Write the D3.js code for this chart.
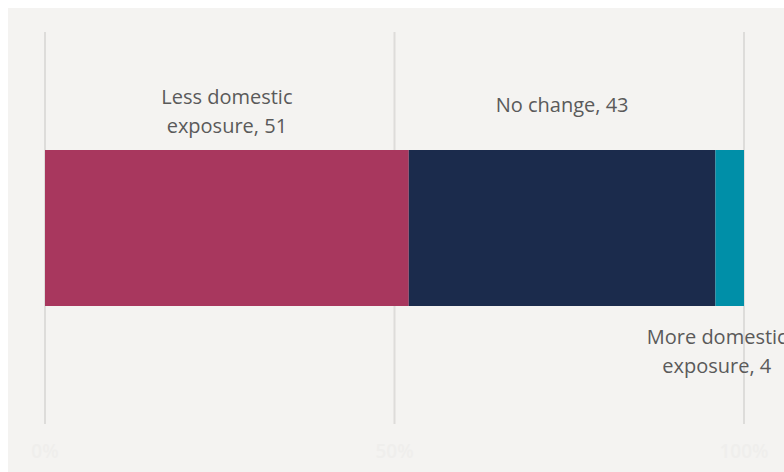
<!DOCTYPE html>
<html>
<head>
<meta charset="utf-8">
<script src="https://cdn.jsdelivr.net/npm/d3@7"></script>
<style>
  body { margin: 0; background: #fff; }
  svg { display: block; font-family: "Open Sans", sans-serif; }
</style>
</head>
<body>
<div id="chart"></div>
<script>
// data
const categories = ["Less domestic exposure", "No change", "More domestic exposure"];
const values = [51, 43, 4];
const colors = ["#a8375e", "#1b2b4c", "#008fa8"];
const tickValues = [0, 0.5, 1];
const tickLabels = ["0%", "50%", "100%"];
// label lines + placement (above / below the bar)
const labelLines = [["Less domestic", "exposure, 51"], ["No change, 43"], ["More domestic", "exposure, 4"]];
const labelSide = ["above", "above", "below"];

const W = 784, H = 472;
const svg = d3.select("#chart").append("svg")
    .attr("width", W)
    .attr("height", H);

// panel background
svg.append("rect")
    .attr("x", 8).attr("y", 8)
    .attr("width", W - 8).attr("height", H - 8)
    .attr("fill", "#f4f3f1");

const total = d3.sum(values);
const x = d3.scaleLinear().domain([0, 1]).range([45, 744]);

const barTop = 150, barH = 156;

// grid lines
svg.append("g")
    .selectAll("line")
    .data(tickValues)
    .join("line")
    .attr("x1", d => x(d)).attr("x2", d => x(d))
    .attr("y1", 32).attr("y2", 424)
    .attr("stroke", "#dddcda")
    .attr("stroke-width", 2);

// tick labels (very faint in the original)
svg.append("g")
    .selectAll("text")
    .data(tickValues)
    .join("text")
    .attr("x", d => x(d))
    .attr("y", 458)
    .attr("text-anchor", "middle")
    .attr("font-size", 19)
    .attr("font-weight", 600)
    .attr("fill", "#efeeec")
    .text((d, i) => tickLabels[i]);

// stacked shares
let acc = 0;
const segs = values.map((v, i) => {
  const s = { i, start: acc / total, end: (acc + v) / total };
  acc += v;
  return s;
});

svg.append("g")
    .selectAll("rect")
    .data(segs)
    .join("rect")
    .attr("x", d => x(d.start))
    .attr("y", barTop)
    .attr("width", d => x(d.end) - x(d.start))
    .attr("height", barH)
    .attr("fill", d => colors[d.i]);

// labels
const lineH = 29;
const labels = svg.append("g")
    .attr("font-size", 20)
    .attr("fill", "#5a5a5a")
    .attr("text-anchor", "middle");

segs.forEach(s => {
  const lines = labelLines[s.i];
  let cx = (x(s.start) + x(s.end)) / 2;
  if (labelSide[s.i] === "below") cx -= 13;
  const t = labels.append("text");
  lines.forEach((ln, j) => {
    let y;
    if (labelSide[s.i] === "above") {
      y = lines.length > 1 ? barTop - 46 + j * lineH : barTop - 38;
    } else {
      y = barTop + barH + 38 + j * lineH;
    }
    t.append("tspan").attr("x", cx).attr("y", y).text(ln);
  });
});
</script>
</body>
</html>
